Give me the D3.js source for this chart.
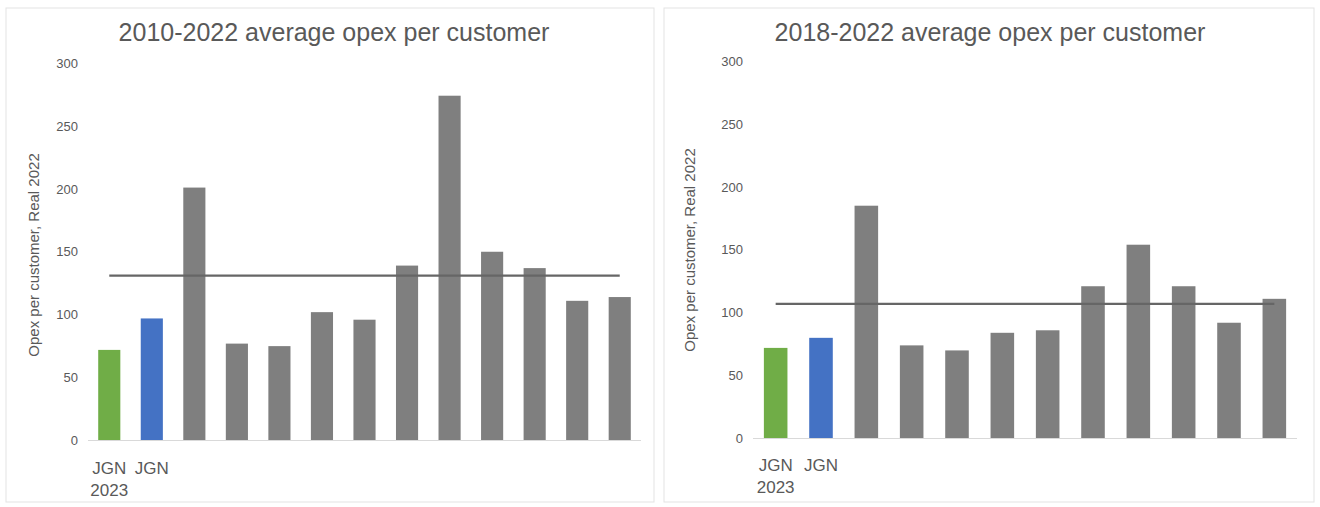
<!DOCTYPE html>
<html>
<head>
<meta charset="utf-8">
<script src="https://cdn.jsdelivr.net/npm/d3@7"></script>
<style>
  html, body { margin: 0; padding: 0; background: #fff; }
  svg { display: block; font-family: "Liberation Sans", Arial, sans-serif; }
</style>
</head>
<body>
<svg id="chart" width="1320" height="507"></svg>
<script>
// Networks compared in each panel: the two JGN bars first, then the comparators
const categories2010 = ["JGN 2023", "JGN", "B3", "B4", "B5", "B6", "B7", "B8", "B9", "B10", "B11", "B12", "B13"];
const categories2018 = ["JGN 2023", "JGN", "B3", "B4", "B5", "B6", "B7", "B8", "B9", "B10", "B11", "B12"];
const categoryLabels = { "JGN 2023": ["JGN", "2023"], "JGN": ["JGN"] };

// Opex per customer, Real 2022
const opex2010to2022 = [72, 97, 201, 77, 75, 102, 96, 139, 274, 150, 137, 111, 114];
const average2010to2022 = 131;
const opex2018to2022 = [72, 80, 185, 74, 70, 84, 86, 121, 154, 121, 92, 111];
const average2018to2022 = 107;

const yTicks = [0, 50, 100, 150, 200, 250, 300];
const titles = ["2010-2022 average opex per customer", "2018-2022 average opex per customer"];
const yTitle = "Opex per customer, Real 2022";

const barColors = ["#70ad47", "#4472c4"];
const otherColor = "#7f7f7f";
const textColor = "#595959";

const svg = d3.select("#chart");

// Panel frames
[[6, 8, 648, 494], [664, 8, 650, 494]].forEach(([x, y, w, h]) => {
  svg.append("rect").attr("x", x).attr("y", y).attr("width", w).attr("height", h)
    .attr("fill", "none").attr("stroke", "#e3e3e3").attr("stroke-width", 1);
});

function drawPanel(cfg) {
  const g = svg.append("g");
  const cats = cfg.categories;
  const x = d3.scaleBand().domain(cats).range(cfg.xRange)
    .paddingInner(0.48).paddingOuter(0.24);
  const y = d3.scaleLinear().domain([0, 300]).range(cfg.yRange);

  // Title
  g.append("text").attr("x", cfg.titleX).attr("y", cfg.titleY)
    .attr("text-anchor", "middle").attr("font-size", 25).attr("fill", textColor)
    .text(cfg.title);

  // Y axis (labels only)
  const yAxis = d3.axisLeft(y).tickValues(yTicks).tickSize(0).tickPadding(0);
  const ya = g.append("g").attr("transform", `translate(${cfg.xRange[0] - 10},0)`).call(yAxis);
  ya.select(".domain").remove();
  ya.selectAll("text").attr("font-size", 13).attr("fill", textColor)
    .attr("font-family", "Liberation Sans, Arial, sans-serif");

  // Y axis title
  g.append("text")
    .attr("transform", `translate(${cfg.yTitleX},${cfg.yTitleY}) rotate(-90)`)
    .attr("text-anchor", "middle").attr("font-size", 15).attr("fill", textColor)
    .text(yTitle);

  // Bars
  g.selectAll("rect.bar").data(cfg.values).join("rect")
    .attr("class", "bar")
    .attr("x", (d, i) => x(cats[i]))
    .attr("width", x.bandwidth())
    .attr("y", d => y(d))
    .attr("height", d => y(0) - y(d))
    .attr("fill", (d, i) => i < 2 ? barColors[i] : otherColor);

  // Baseline
  g.append("line").attr("x1", cfg.xRange[0]).attr("x2", cfg.xRange[1])
    .attr("y1", y(0)).attr("y2", y(0))
    .attr("stroke", "#d9d9d9").attr("stroke-width", 1);

  // Average line from first to last bar centre
  const cx0 = x(cats[0]) + x.bandwidth() / 2;
  const cx1 = x(cats[cats.length - 1]) + x.bandwidth() / 2;
  g.append("line").attr("x1", cx0).attr("x2", cx1)
    .attr("y1", y(cfg.average)).attr("y2", y(cfg.average))
    .attr("stroke", "#666666").attr("stroke-width", 2.2);

  // Category labels (only the JGN bars are named)
  cats.forEach(c => {
    (categoryLabels[c] || []).forEach((t, j) => {
      g.append("text")
        .attr("x", x(c) + x.bandwidth() / 2)
        .attr("y", y(0) + cfg.labelDy + j * 22)
        .attr("text-anchor", "middle")
        .attr("font-size", 17).attr("fill", textColor)
        .text(t);
    });
  });
}

drawPanel({
  categories: categories2010,
  title: titles[0], titleX: 334, titleY: 41,
  xRange: [88, 641], yRange: [440.5, 63],
  yTitleX: 39, yTitleY: 255,
  values: opex2010to2022, average: average2010to2022, labelDy: 33
});

drawPanel({
  categories: categories2018,
  title: titles[1], titleX: 990, titleY: 41,
  xRange: [753, 1297], yRange: [438.5, 61],
  yTitleX: 695, yTitleY: 250,
  values: opex2018to2022, average: average2018to2022, labelDy: 32
});
</script>
</body>
</html>
